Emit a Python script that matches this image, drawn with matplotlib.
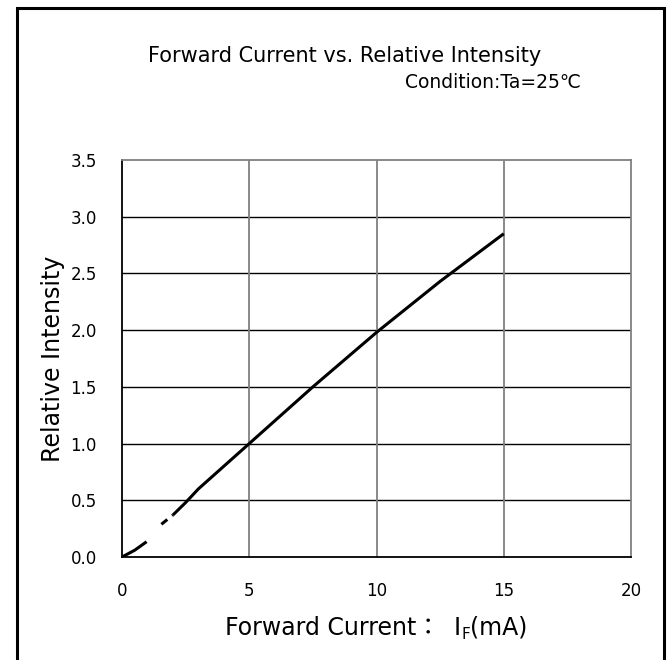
import matplotlib
matplotlib.use("Agg")
import matplotlib.pyplot as plt
from matplotlib.patches import Rectangle

# data
current_ma = [0, 0.5, 1.0, 1.5, 2.0, 2.5, 3.0, 5.0, 7.5, 10.0, 12.5, 15.0]
rel_intensity = [0, 0.06, 0.14, 0.28, 0.37, 0.48, 0.60, 1.00, 1.50, 1.98, 2.43, 2.85]
dash_split = 4  # points up to index 4 are drawn dashed

x_ticks = [0, 5, 10, 15, 20]
y_ticks = [0.0, 0.5, 1.0, 1.5, 2.0, 2.5, 3.0, 3.5]

plt.rcParams["font.family"] = ["DejaVu Sans", "Noto Sans CJK JP"]

fig = plt.figure(figsize=(6.71, 6.60), dpi=100)

# outer frame around the whole chart
fig.patches.append(Rectangle((17 / 671, -0.05), 647 / 671, 1.05 - 8 / 660,
                             transform=fig.transFigure, fill=False,
                             edgecolor="black", linewidth=2.2))

ax = fig.add_axes([122 / 671, 1 - 557 / 660, 509 / 671, 397 / 660])

ax.plot(current_ma[:dash_split + 1], rel_intensity[:dash_split + 1],
        color="black", linewidth=2.2, dashes=(9.5, 7.5, 2.5, 2))
ax.plot(current_ma[dash_split:], rel_intensity[dash_split:],
        color="black", linewidth=2.2, solid_capstyle="butt")

ax.set_xlim(0, 20)
ax.set_ylim(0, 3.5)
ax.set_xticks(x_ticks)
ax.set_yticks(y_ticks)
ax.set_yticklabels([f"{v:.1f}" for v in y_ticks])
ax.tick_params(length=0, labelsize=12, pad=18)

# gridlines: horizontal black, vertical grey
for v in y_ticks[1:-1]:
    ax.axhline(v, color="black", linewidth=1.0, zorder=0)
for v in x_ticks[1:-1]:
    ax.axvline(v, color="#808080", linewidth=1.3, zorder=0)

ax.spines["left"].set_color("black")
ax.spines["bottom"].set_color("black")
ax.spines["top"].set_color("#808080")
ax.spines["right"].set_color("#808080")
for s in ax.spines.values():
    s.set_linewidth(1.3)

ax.set_ylabel("Relative Intensity", fontsize=17, labelpad=4)

# x label built from pieces so the full-width colon and subscript F both render
lab_size = 17
t1 = fig.text(225 / 671, 1 - 635 / 660, "Forward Current：",
              ha="left", va="baseline", fontsize=lab_size)
t2 = ax.annotate("I", xy=(1, 0), xycoords=t1, xytext=(10, 0),
                 textcoords="offset points", ha="left", va="bottom",
                 fontsize=lab_size, annotation_clip=False)
t3 = ax.annotate("F", xy=(1, 0), xycoords=t2, xytext=(0, -1.5),
                 textcoords="offset points", ha="left", va="bottom",
                 fontsize=11, annotation_clip=False)
t4 = ax.annotate("(mA)", xy=(1, 0), xycoords=(t3, t2), xytext=(0, 0),
                 textcoords="offset points", ha="left", va="bottom",
                 fontsize=lab_size, annotation_clip=False)

fig.text(345 / 671, 1 - 56 / 660, "Forward Current vs. Relative Intensity",
         ha="center", va="center", fontsize=15)
fig.text(581 / 671, 1 - 82 / 660, "Condition:Ta=25℃",
         ha="right", va="center", fontsize=13.5)

fig.savefig("out.png", dpi=100)
